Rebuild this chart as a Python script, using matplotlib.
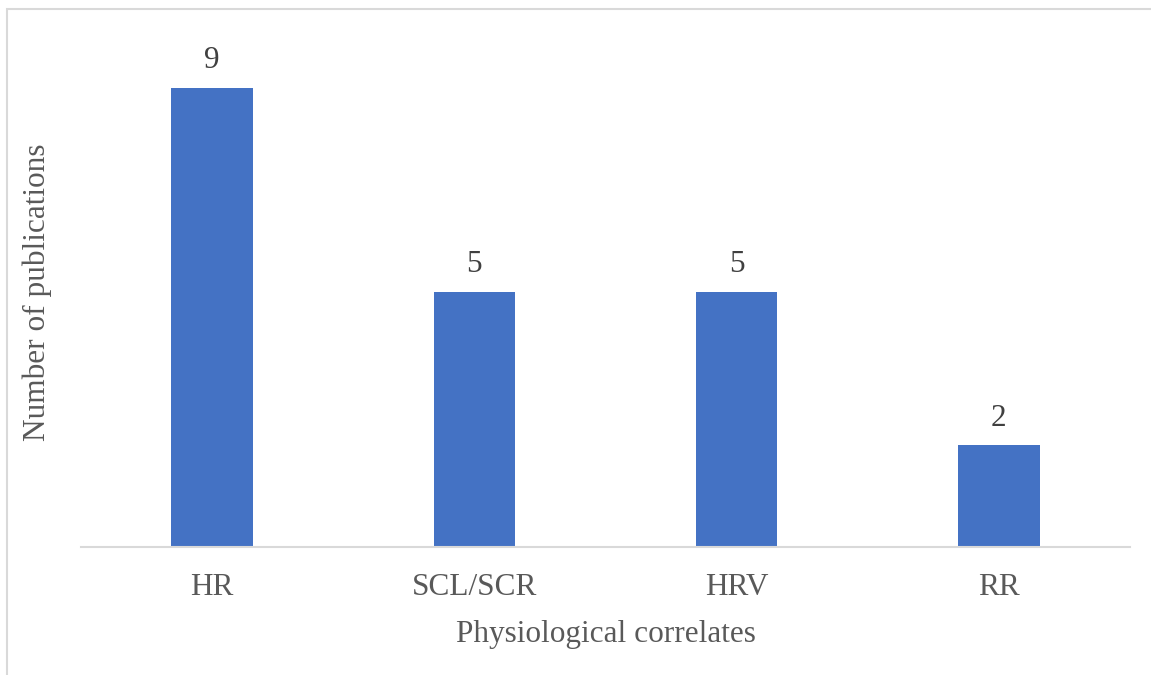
import matplotlib
matplotlib.use("Agg")
import matplotlib.pyplot as plt
from matplotlib.patches import Rectangle

categories = ["HR", "SCL/SCR", "HRV", "RR"]
values = [9, 5, 5, 2]

W, H = 1151, 675
fig = plt.figure(figsize=(W / 100, H / 100), dpi=100)
plt.rcParams['font.family'] = ['Liberation Serif', 'DejaVu Serif']

# outer chart border (only left and top visible)
fig.add_artist(Rectangle((7 / W, -0.1), 1.2, 1 - 9 / H + 0.1, transform=fig.transFigure,
                         fill=False, edgecolor="#d9d9d9", linewidth=1.5))

y0 = 547
unit = 51
ax = fig.add_axes([81 / W, 1 - y0 / H, (1130 - 81) / W, 10 * unit / H])
x = list(range(len(categories)))
bars = ax.bar(x, values, width=0.31, color="#4472C4")
ax.set_xlim(-0.5, len(categories) - 0.5)
ax.set_ylim(0, 10)

for xi, v in zip(x, values):
    ax.annotate(str(v), (xi, v), xytext=(0, 9), textcoords="offset points",
                ha="center", va="bottom", fontsize=22.5, color="#404040")

for s in ["top", "right", "left"]:
    ax.spines[s].set_visible(False)
ax.spines["bottom"].set_color("#d9d9d9")
ax.spines["bottom"].set_linewidth(1.5)
ax.set_yticks([])
ax.set_xticks(x)
ax.set_xticklabels(categories, fontsize=22.5, color="#595959")
ax.tick_params(axis="x", length=0, pad=19)
ax.set_xlabel("Physiological correlates", fontsize=22.5, color="#595959", labelpad=12.5)
ax.set_ylabel("Number of publications", fontsize=22.5, color="#595959", labelpad=21)

fig.savefig("out.png", dpi=100, facecolor="white")
